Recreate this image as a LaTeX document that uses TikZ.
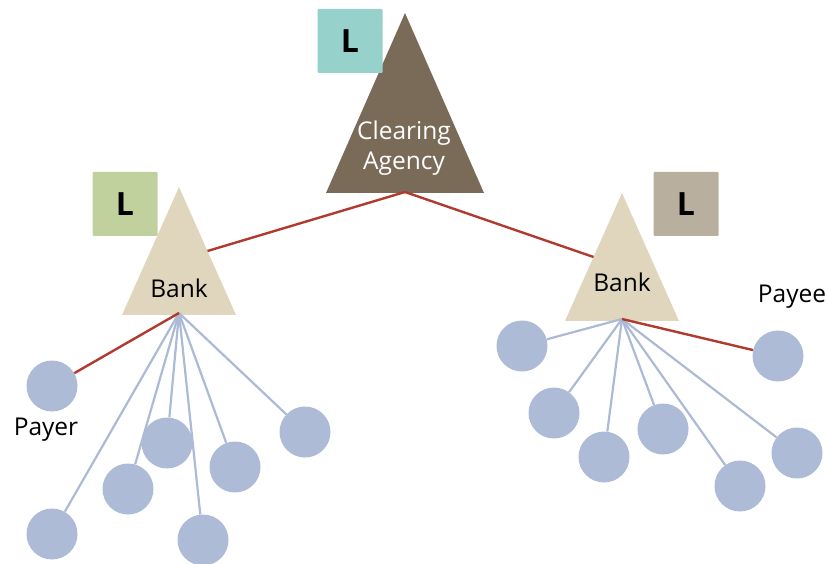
\documentclass[tikz,border=0pt]{standalone}
\usepackage{fontspec}
\setmainfont{Open Sans}
\usetikzlibrary{calc}
\definecolor{agencybrown}{RGB}{122,106,88}
\definecolor{banksand}{RGB}{223,214,189}
\definecolor{clientblue}{RGB}{173,187,214}
\definecolor{linkblue}{RGB}{172,186,214}
\definecolor{payred}{RGB}{176,58,46}
\definecolor{lteal}{RGB}{150,209,203}
\definecolor{lgreen}{RGB}{192,209,158}
\definecolor{lgray}{RGB}{184,175,158}

\begin{document}
\begin{tikzpicture}[x=1pt,y=-1pt,
	lbl/.style={font=\fontsize{24.5}{30}\selectfont},
	lbox/.style={rounded corners=1pt, minimum width=65pt, minimum height=64pt, inner sep=0pt, font=\fontsize{32}{36}\selectfont\bfseries},
	client/.style={circle, fill=clientblue, minimum size=51pt, inner sep=0pt},
	link/.style={line width=2.2pt, color=linkblue},
	pay/.style={line width=2.4pt, color=payred}]
		%%%%% START %%%%%
		\useasboundingbox (0,0) rectangle (828,564);
		
		% triangles
		\coordinate (agencyTop) at (405,13);
		\coordinate (agencyL) at (326,193);
		\coordinate (agencyR) at (484,193);
		\coordinate (agencyFoot) at (405,192);
		\fill[agencybrown] (agencyTop) -- (agencyR) -- (agencyL) -- cycle;
		
		\coordinate (bankLTop) at (179,187);
		\coordinate (bankLL) at (122,315);
		\coordinate (bankLR) at (236,315);
		\coordinate (bankLFoot) at (179,313);
		\fill[banksand] (bankLTop) -- (bankLR) -- (bankLL) -- cycle;
		
		\coordinate (bankRTop) at (622,193);
		\coordinate (bankRL) at (565,321);
		\coordinate (bankRR) at (679,321);
		\coordinate (bankRFoot) at (622,319);
		\fill[banksand] (bankRTop) -- (bankRR) -- (bankRL) -- cycle;
		
		\node[lbl, text=white, align=center] (agency) at (404,148) {Clearing\\Agency};
		\node[lbl] (bankL) at (179,288) {Bank};
		\node[lbl] (bankR) at (622,282) {Bank};
		
		\node[lbox, fill=lteal] (lAgency) at (350,41) {L};
		\node[lbox, fill=lgreen] (lBankL) at (125,204) {L};
		\node[lbox, fill=lgray] (lBankR) at (686,204) {L};
		
		% clients left
		\node[client] (payer) at (52,386) {};
		\node[client] (cl1) at (52,534) {};
		\node[client] (cl2) at (128,489) {};
		\node[client] (cl3) at (167,443) {};
		\node[client] (cl4) at (203,540) {};
		\node[client] (cl5) at (235,467) {};
		\node[client] (cl6) at (305,432) {};
		
		% clients right
		\node[client] (cr1) at (522,346) {};
		\node[client] (cr2) at (554,413) {};
		\node[client] (cr3) at (604,457) {};
		\node[client] (cr4) at (663,429) {};
		\node[client] (cr5) at (740,486) {};
		\node[client] (cr6) at (797,453) {};
		\node[client] (payee) at (778,356) {};
		
		\node[lbl] (payerLbl) at (46,430) {Payer};
		\node[lbl] (payeeLbl) at (792,297) {Payee};
		
		\foreach \c in {cl1,cl2,cl3,cl4,cl5,cl6}
			\draw[link] (bankLFoot) -- (\c);
		\foreach \c in {cr1,cr2,cr3,cr4,cr5,cr6}
			\draw[link] (bankRFoot) -- (\c);
		
		\draw[pay] (agencyFoot) -- ($(bankLTop)!0.5!(bankLR)$);
		\draw[pay] (agencyFoot) -- ($(bankRTop)!0.5!(bankRL)$);
		\draw[pay] (bankLFoot) -- (payer);
		\draw[pay] (bankRFoot) -- (payee);
		
		%%%%% END %%%%%
	\end{tikzpicture}
\end{document}
